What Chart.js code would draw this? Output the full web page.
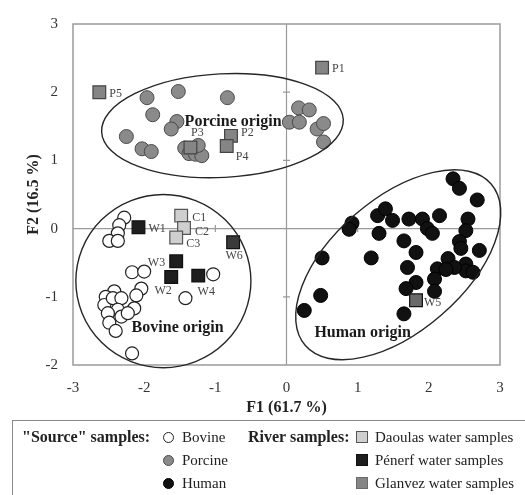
<!DOCTYPE html>
<html><head><meta charset="utf-8">
<script src="https://cdn.jsdelivr.net/npm/chart.js@4"></script>
<style>
html,body{margin:0;padding:0;background:#fff;overflow:hidden;}
#wrap{position:relative;width:525px;height:495px;overflow:hidden;font-family:"Liberation Serif","DejaVu Serif",serif;color:#222;}
#c{position:absolute;left:0;top:0;}
#box{position:absolute;left:12px;top:420px;width:560px;height:120px;border:1.5px solid #8a8a8a;box-sizing:border-box;}
.t{position:absolute;white-space:nowrap;font-size:15px;line-height:16px;}
.b{font-weight:bold;font-size:16px;}
.m{position:absolute;box-sizing:border-box;}
</style></head>
<body>
<div id="wrap">
<canvas id="c" width="525" height="495"></canvas>
<div id="box"></div>
<div id="leg"></div>
</div>
<script>
// ---- data ----
const xTicks = [-3,-2,-1,0,1,2,3];
const yTicks = [-2,-1,0,1,2,3];

const bovineX = [-2.28,-2.35,-2.37,-2.49,-2.37,-2.17,-2.00,-1.03,-1.42,-2.04,-2.42,-2.54,-2.56,-2.44,-2.32,-2.37,-2.51,-2.32,-2.49,-2.40,-2.11,-2.14,-2.23,-2.17];
const bovineY = [0.16,0.05,-0.07,-0.18,-0.18,-0.64,-0.63,-0.67,-1.02,-0.88,-0.92,-1.00,-1.12,-1.02,-1.02,-1.19,-1.24,-1.29,-1.38,-1.50,-0.98,-1.17,-1.24,-1.83];

const porcineX = [-1.96,-1.52,-0.83,-1.88,-1.54,-1.62,-2.25,-2.03,-1.90,-1.43,-1.37,-1.28,-1.19,-1.24,0.17,0.32,0.04,0.18,0.43,0.52,0.52];
const porcineY = [1.92,2.01,1.92,1.67,1.57,1.46,1.35,1.17,1.13,1.18,1.10,1.09,1.07,1.22,1.77,1.74,1.56,1.56,1.46,1.54,1.27];

const humanX = [2.34,2.43,2.68,0.92,0.88,1.28,1.39,1.49,1.72,1.91,2.15,1.98,2.05,2.55,2.52,1.30,1.65,1.82,2.43,2.45,2.71,0.50,1.19,1.70,2.27,2.12,2.08,2.52,2.52,2.62,2.36,2.24,1.82,1.68,2.08,0.48,0.25,1.65];
const humanY = [0.73,0.59,0.42,0.08,-0.01,0.19,0.29,0.12,0.14,0.14,0.19,0.00,-0.07,0.14,-0.03,-0.07,-0.18,-0.35,-0.19,-0.29,-0.32,-0.43,-0.43,-0.57,-0.44,-0.59,-0.74,-0.52,-0.62,-0.64,-0.57,-0.60,-0.79,-0.88,-0.92,-0.98,-1.20,-1.25];

const daoulasNames = ['C1','C2','C3'];
const daoulasX = [-1.48,-1.44,-1.55];
const daoulasY = [0.19,0.01,-0.13];

const penerfNames = ['W1','W2','W3','W4','W5','W6'];
const penerfX = [-2.08,-1.62,-1.55,-1.24,1.82,-0.75];
const penerfY = [0.02,-0.71,-0.48,-0.69,-1.05,-0.20];

const glanvezNames = ['P1','P2','P3','P4','P5'];
const glanvezX = [0.50,-0.78,-1.35,-0.84,-2.63];
const glanvezY = [2.36,1.36,1.19,1.21,2.00];

const regionNames = ['Porcine origin','Bovine origin','Human origin'];
const regionLabelX = [-0.75,-1.53,1.07];
const regionLabelY = [1.57,-1.46,-1.53];

const ellipseCX = [-0.90,-1.73,1.57];
const ellipseCY = [1.51,-0.77,-0.53];
const ellipseRX = [1.70,1.23,1.73];
const ellipseRY = [0.76,1.27,0.97];
const ellipseAngle = [-3,0,-41];

// ---- styles (label placement offsets in px) ----
const labelPlace = {
  C1:[11,2,'left'], C2:[11,4,'left'], C3:[10,6,'left'],
  W1:[10,2,'left'], W2:[-8,14,'center'], W3:[-11,2,'right'], W4:[8,16,'center'], W5:[8,3,'left'], W6:[1,14,'center'],
  P1:[10,1,'left'], P2:[10,-3,'left'], P3:[7,-15,'center'], P4:[9,11,'left'], P5:[10,2,'left']
};
const penerfColors = ['#1e1e1e','#1e1e1e','#1e1e1e','#1e1e1e','#6a6a6a','#3a3a3a'];

const FONT = '"Liberation Serif", "DejaVu Serif", serif';
const pts = (xs, ys) => xs.map((x, i) => ({x, y: ys[i]}));

const decor = {
  id: 'decor',
  beforeDatasetsDraw(chart) {
    const {ctx, chartArea: a, scales: {x, y}} = chart;
    ctx.save();
    ctx.strokeStyle = '#9a9a9a';
    ctx.lineWidth = 1.5;
    ctx.strokeRect(a.left, a.top, a.right - a.left, a.bottom - a.top);
    ctx.lineWidth = 1.2;
    const x0 = x.getPixelForValue(0), y0 = y.getPixelForValue(0);
    ctx.beginPath();
    ctx.moveTo(x0, a.top); ctx.lineTo(x0, a.bottom);
    ctx.moveTo(a.left, y0); ctx.lineTo(a.right, y0);
    xTicks.forEach(v => { if (v > x.min && v < x.max && v !== 0) { const p = x.getPixelForValue(v); ctx.moveTo(p, y0 - 3.5); ctx.lineTo(p, y0 + 3.5); } });
    yTicks.forEach(v => { if (v > y.min && v < y.max && v !== 0) { const p = y.getPixelForValue(v); ctx.moveTo(x0 - 3.5, p); ctx.lineTo(x0 + 3.5, p); } });
    ctx.stroke();
    ctx.restore();
  },
  afterDatasetsDraw(chart) {
    const {ctx, scales: {x, y}} = chart;
    ctx.save();
    ctx.strokeStyle = '#262626';
    ctx.lineWidth = 1.4;
    ellipseCX.forEach((cx, i) => {
      const px = x.getPixelForValue(cx), py = y.getPixelForValue(ellipseCY[i]);
      const ra = Math.abs(x.getPixelForValue(cx + ellipseRX[i]) - px);
      const rb = Math.abs(y.getPixelForValue(ellipseCY[i] + ellipseRY[i]) - py);
      ctx.beginPath();
      ctx.ellipse(px, py, ra, rb, ellipseAngle[i] * Math.PI / 180, 0, Math.PI * 2);
      ctx.stroke();
    });
    // region labels
    ctx.fillStyle = '#1a1a1a';
    ctx.font = 'bold 16px ' + FONT;
    ctx.textAlign = 'center';
    ctx.textBaseline = 'middle';
    regionNames.forEach((n, i) => ctx.fillText(n, x.getPixelForValue(regionLabelX[i]), y.getPixelForValue(regionLabelY[i])));
    // point labels
    ctx.font = '12px ' + FONT;
    ctx.fillStyle = '#444';
    chart.data.datasets.forEach((ds, di) => {
      if (!ds.names) return;
      const meta = chart.getDatasetMeta(di);
      ds.names.forEach((n, j) => {
        const el = meta.data[j];
        const pl = labelPlace[n] || [10, 0, 'left'];
        ctx.textAlign = pl[2];
        ctx.fillText(n, el.x + pl[0], el.y + pl[1]);
      });
    });
    ctx.restore();
  }
};

const tickFont = {family: FONT, size: 15};
const titleFont = {family: FONT, size: 16, weight: 'bold'};

new Chart(document.getElementById('c'), {
  type: 'scatter',
  data: {
    datasets: [
      {label: 'Daoulas water samples', names: daoulasNames, data: pts(daoulasX, daoulasY), pointStyle: 'rect', pointRadius: 9, backgroundColor: '#cfcfcf', borderColor: '#555', borderWidth: 1.2},
      {label: 'Pénerf water samples', names: penerfNames, data: pts(penerfX, penerfY), pointStyle: 'rect', pointRadius: 9, backgroundColor: penerfColors, borderColor: '#111', borderWidth: 1.2},
      {label: 'Glanvez water samples', names: glanvezNames, data: pts(glanvezX, glanvezY), pointStyle: 'rect', pointRadius: 9, backgroundColor: '#858585', borderColor: '#444', borderWidth: 1.2},
      {label: 'Bovine', data: pts(bovineX, bovineY), pointRadius: 6.5, backgroundColor: '#fff', borderColor: '#222', borderWidth: 1.2},
      {label: 'Porcine', data: pts(porcineX, porcineY), pointRadius: 7, backgroundColor: '#8a8a8a', borderColor: '#4a4a4a', borderWidth: 1},
      {label: 'Human', data: pts(humanX, humanY), pointRadius: 7, backgroundColor: '#111', borderColor: '#000', borderWidth: 1}
    ]
  },
  options: {
    responsive: false,
    animation: false,
    layout: {padding: {left: 0, top: 15, right: 25, bottom: 74}},
    plugins: {legend: {display: false}, tooltip: {enabled: false}},
    scales: {
      x: {
        type: 'linear', min: -3, max: 3,
        afterBuildTicks: s => { s.ticks = xTicks.map(v => ({value: v})); },
        ticks: {font: tickFont, color: '#333', padding: 14, maxRotation: 0},
        grid: {display: false, drawTicks: false},
        border: {display: false},
        title: {display: true, text: 'F1 (61.7 %)', font: titleFont, color: '#222', padding: {top: 0, bottom: 4}},
        afterFit: s => { s.height = 56; }
      },
      y: {
        type: 'linear', min: -2, max: 3,
        afterBuildTicks: s => { s.ticks = yTicks.map(v => ({value: v})); },
        ticks: {font: tickFont, color: '#333', padding: 15},
        grid: {display: false, drawTicks: false},
        border: {display: false},
        title: {display: true, text: 'F2 (16.5 %)', font: titleFont, color: '#222', padding: {top: 24, bottom: 0}},
        afterFit: s => { s.width = 73; }
      }
    }
  },
  plugins: [decor]
});

// ---- HTML legend ----
const leg = document.getElementById('leg');
const rowY = [437, 460, 483];
function text(s, left, y, bold) {
  const d = document.createElement('div');
  d.className = 't' + (bold ? ' b' : '');
  d.textContent = s;
  d.style.left = left + 'px';
  d.style.top = (y - 8) + 'px';
  leg.appendChild(d);
}
function marker(cx, cy, size, fill, border, round) {
  const d = document.createElement('div');
  d.className = 'm';
  d.style.left = (cx - size / 2) + 'px';
  d.style.top = (cy - size / 2) + 'px';
  d.style.width = size + 'px';
  d.style.height = size + 'px';
  d.style.background = fill;
  d.style.border = '1.2px solid ' + border;
  if (round) d.style.borderRadius = '50%';
  leg.appendChild(d);
}
const sourceNames = ['Bovine', 'Porcine', 'Human'];
const sourceFill = ['#fff', '#8a8a8a', '#111'];
const sourceBorder = ['#222', '#4a4a4a', '#000'];
const riverNames = ['Daoulas water samples', 'Pénerf water samples', 'Glanvez water samples'];
const riverFill = ['#cfcfcf', '#1e1e1e', '#858585'];
const riverBorder = ['#555', '#111', '#6a6a6a'];
text('"Source" samples:', 22, rowY[0], true);
text('River samples:', 248, rowY[0], true);
sourceNames.forEach((n, i) => { marker(168, rowY[i], 11, sourceFill[i], sourceBorder[i], true); text(n, 182, rowY[i]); });
riverNames.forEach((n, i) => { marker(362, rowY[i], 12, riverFill[i], riverBorder[i], false); text(n, 375, rowY[i]); });
</script>
</body></html>
